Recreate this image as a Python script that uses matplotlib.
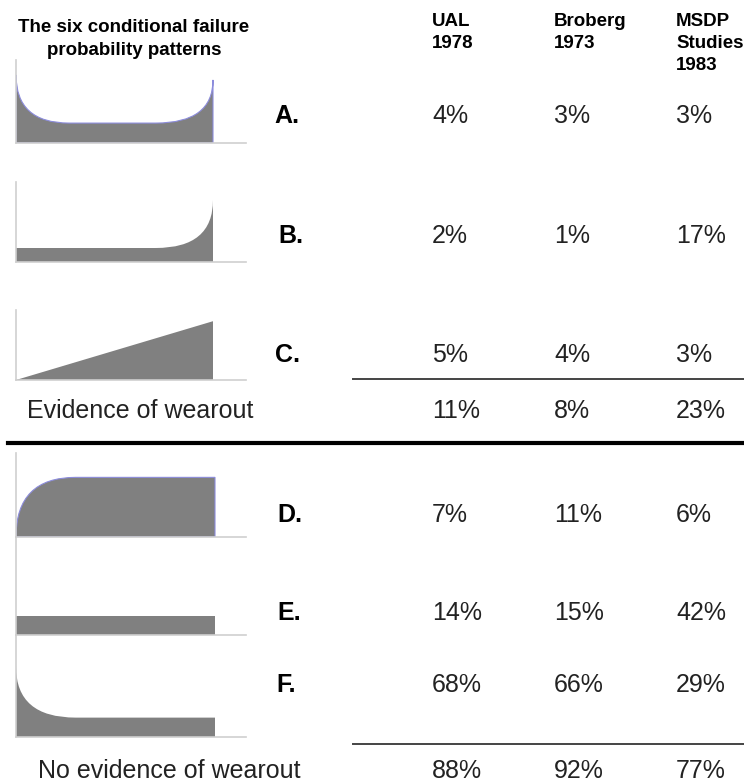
import matplotlib.pyplot as plt
from matplotlib.path import Path
from matplotlib.patches import PathPatch

plt.rcParams['font.family'] = ['Liberation Sans', 'DejaVu Sans']

# table data
patterns = ['A.', 'B.', 'C.', 'D.', 'E.', 'F.']
ual_1978 = [4, 2, 5, 7, 14, 68]
broberg_1973 = [3, 1, 4, 11, 15, 66]
msdp_1983 = [3, 17, 3, 6, 42, 29]
wearout_totals = [11, 8, 23]
no_wearout_totals = [88, 92, 77]
headers = [['UAL', '1978'], ['Broberg', '1973'], ['MSDP', 'Studies', '1983']]
title = ['The six conditional failure', 'probability patterns']

# curve outlines, x: 0..1 over the filled span, y: 0..1 of panel height
# ('q', x, y) is a control point of a quadratic curve
shape_a = [(0, 0), (0, 0.82), ('q', 0, 0.24), (0.27, 0.24), (0.71, 0.24),
           ('q', 1, 0.24), (1, 0.76), (1, 0)]
shape_b = [(0, 0), (0, 0.175), (0.71, 0.175), ('q', 1, 0.175), (1, 0.775), (1, 0)]
shape_c = [(0, 0), (1, 0.84), (1, 0)]
shape_d = [(0, 0), ('q', 0, 0.71), (0.30, 0.71), (1, 0.71), (1, 0)]
shape_e = [(0, 0), (0, 0.19), (1, 0.19), (1, 0)]
shape_f = [(0, 0), (0, 0.69), ('q', 0, 0.19), (0.30, 0.19), (1, 0.19), (1, 0)]
shapes = [shape_a, shape_b, shape_c, shape_d, shape_e, shape_f]
outlined = [True, False, False, True, False, False]

# layout in pixels
W, H = 744, 782
panel_top = [60, 182, 310, 453, 537, 635]
panel_bot = [143, 262, 380, 537, 635, 737]
panel_left, panel_right = 16, 246
fill_right = [213, 213, 213, 215, 215, 215]
row_base = [123, 243, 362, 522, 620, 692]
col_x = [432, 554, 676]
label_x = [274, 278, 275, 277, 277, 276]


def make_path(pts):
    verts, codes = [], []
    for p in pts:
        if p[0] == 'q':
            verts.append((p[1], p[2]))
            codes.append(Path.CURVE3)
        else:
            verts.append(p)
            if not codes:
                codes.append(Path.MOVETO)
            elif codes[-1] == Path.CURVE3 and (len(codes) < 2 or codes[-2] != Path.CURVE3):
                codes.append(Path.CURVE3)
            else:
                codes.append(Path.LINETO)
    verts.append(pts[0])
    codes.append(Path.CLOSEPOLY)
    return Path(verts, codes)


fig = plt.figure(figsize=(W / 100, H / 100), dpi=100)
ax = fig.add_axes([0, 0, 1, 1])
ax.set_xlim(0, W)
ax.set_ylim(H, 0)
ax.axis('off')

for i, pts in enumerate(shapes):
    pax = fig.add_axes([panel_left / W, 1 - panel_bot[i] / H,
                        (panel_right - panel_left) / W,
                        (panel_bot[i] - panel_top[i]) / H])
    span = (fill_right[i] - panel_left) / (panel_right - panel_left)
    pax.set_xlim(0, 1 / span)
    pax.set_ylim(0, 1)
    pax.add_patch(PathPatch(make_path(pts), facecolor='#808080',
                            edgecolor='#8c8cdc' if outlined[i] else 'none',
                            lw=0.8))
    for s in ['top', 'right']:
        pax.spines[s].set_visible(False)
    for s in ['left', 'bottom']:
        pax.spines[s].set_color('#cfcfcf')
        pax.spines[s].set_linewidth(1.2)
    pax.set_xticks([])
    pax.set_yticks([])
    pax.patch.set_alpha(0)

# text
for k, line in enumerate(title):
    ax.text(134, 32 + 23 * k, line, ha='center', va='baseline',
            fontsize=13.5, fontweight='bold')
for x, h in zip(col_x, headers):
    for k, line in enumerate(h):
        ax.text(x, 26 + 22 * k, line, ha='left', va='baseline',
                fontsize=13.5, fontweight='bold')

for i, lab in enumerate(patterns):
    ax.text(label_x[i], row_base[i], lab, ha='left', va='baseline',
            fontsize=18, fontweight='bold')
    for x, v in zip(col_x, [ual_1978[i], broberg_1973[i], msdp_1983[i]]):
        ax.text(x, row_base[i], f'{v}%', ha='left', va='baseline',
                fontsize=18, color='#222222')

ax.text(27, 418, 'Evidence of wearout', ha='left', va='baseline', fontsize=18,
        color='#222222')
for x, v in zip(col_x, wearout_totals):
    ax.text(x, 418, f'{v}%', ha='left', va='baseline', fontsize=18,
            color='#222222')
ax.text(38, 778, 'No evidence of wearout', ha='left', va='baseline',
        fontsize=18, color='#222222')
for x, v in zip(col_x, no_wearout_totals):
    ax.text(x, 778, f'{v}%', ha='left', va='baseline', fontsize=18,
            color='#222222')

# rules
ax.plot([353, W], [379, 379], color='#444444', lw=1.4)
ax.plot([8, W], [443, 443], color='black', lw=3)
ax.plot([353, W], [744, 744], color='#444444', lw=1.4)

fig.savefig('out.png', dpi=100)
